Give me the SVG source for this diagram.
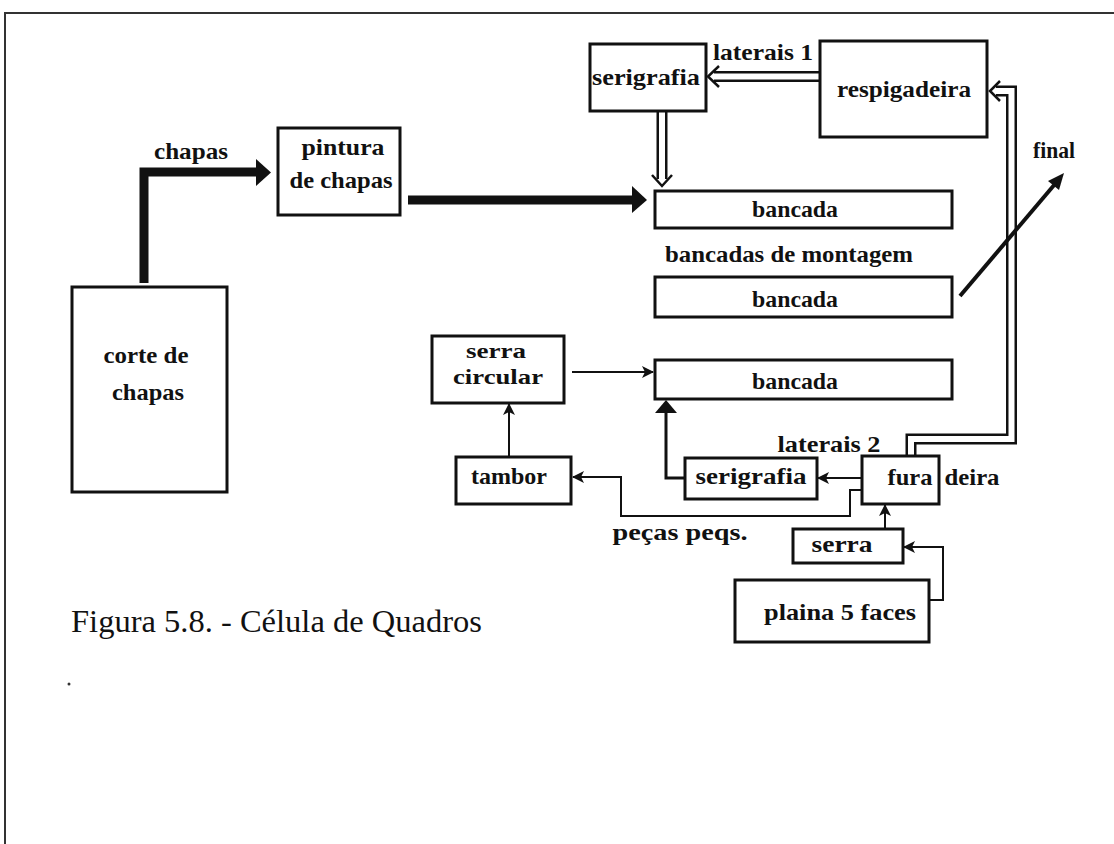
<svg xmlns="http://www.w3.org/2000/svg" width="1114" height="844" viewBox="0 0 1114 844">
<defs>
<style>
.box{fill:#fff;stroke:#111;stroke-width:3}
.t{font-family:"Liberation Serif","Times New Roman",serif;font-weight:bold;font-size:24px;fill:#111;text-anchor:middle}
.s{font-size:21px}
.cap{font-family:"Liberation Serif","Times New Roman",serif;font-size:31px;fill:#111}
.thin{fill:none;stroke:#111;stroke-width:2}
.thick{fill:none;stroke:#111;stroke-width:9;stroke-linejoin:miter}
.dblo{fill:none;stroke:#111;stroke-width:11;stroke-linejoin:miter}
.dbli{fill:none;stroke:#fff;stroke-width:6;stroke-linejoin:miter}
.chev{fill:none;stroke:#111;stroke-width:2.5}
.head{fill:#111}
</style>
<marker id="ah" viewBox="0 0 12 12" refX="11" refY="6" markerWidth="12" markerHeight="12" markerUnits="userSpaceOnUse" orient="auto">
<path d="M0,0 L12,6 L0,12 L3,6 z" fill="#111"/>
</marker>
</defs>
<rect width="1114" height="844" fill="#fff"/>
<g id="frame">
<line x1="4" y1="13" x2="1114" y2="13" stroke="#333" stroke-width="2"/>
<line x1="5" y1="13" x2="5" y2="844" stroke="#333" stroke-width="2"/>
</g>
<g id="connectors">
<path class="thick" d="M144,283 V172 H258"/>
<polygon class="head" points="256,159 271,172.5 256,186"/>
<path class="thick" d="M408,200 H634"/>
<polygon class="head" points="632,186 647,200 632,213"/>
<path class="dblo" d="M820,76.5 H714"/>
<path class="dbli" d="M822,76.5 H712"/>
<polyline class="chev" points="719,66 708,76.5 719,87"/>
<path class="dblo" d="M662,111 V179"/>
<path class="dbli" d="M662,109 V181"/>
<polyline class="chev" points="652,175 662,186 672,175"/>
<path class="dblo" d="M911,456 V439 H1011.5 V91 H996"/>
<path class="dbli" d="M911,458 V439 H1011.5 V91 H994"/>
<polyline class="chev" points="1000,81 990,91 1000,101"/>
<line x1="960" y1="296" x2="1055" y2="184" stroke="#111" stroke-width="4"/>
<polygon class="head" points="1064,173 1059,190 1048,181"/>
<path class="thin" d="M572,372 H653" marker-end="url(#ah)"/>
<path class="thin" d="M509,457 V404" marker-end="url(#ah)"/>
<path fill="none" stroke="#111" stroke-width="3" d="M685,478 H666 V408"/>
<polygon class="head" points="666,400 655,413 677,413"/>
<path class="thin" d="M862,478 H818" marker-end="url(#ah)"/>
<path class="thin" d="M862,490 H850 V516 H621 V477 H573" marker-end="url(#ah)"/>
<path class="thin" d="M885,529 V505" marker-end="url(#ah)"/>
<path class="thin" d="M929,600 H943 V547 H904" marker-end="url(#ah)"/>
</g>
<g id="labels">
<text class="t" x="191" y="159" textLength="74" lengthAdjust="spacingAndGlyphs">chapas</text>
<text class="t" x="763" y="60" textLength="100" lengthAdjust="spacingAndGlyphs">laterais 1</text>
<text class="t" x="789" y="262" textLength="248" lengthAdjust="spacingAndGlyphs">bancadas de montagem</text>
<text class="t" x="1054" y="158" textLength="42" lengthAdjust="spacingAndGlyphs">final</text>
<text class="t" x="829" y="452" textLength="103" lengthAdjust="spacingAndGlyphs">laterais 2</text>
<text class="t" x="972" y="485" textLength="55" lengthAdjust="spacingAndGlyphs">deira</text>
<text class="t" x="680" y="540" textLength="135" lengthAdjust="spacingAndGlyphs">peças peqs.</text>
<text class="cap" x="71" y="632" textLength="411" lengthAdjust="spacingAndGlyphs">Figura 5.8. - Célula de Quadros</text>
<circle cx="69" cy="684" r="1.5" fill="#333"/>
</g>
<g id="corte">
<rect class="box" x="72" y="287" width="155" height="205"/>
<text class="t" x="146" y="363" textLength="85" lengthAdjust="spacingAndGlyphs">corte de</text>
<text class="t" x="148" y="400" textLength="72" lengthAdjust="spacingAndGlyphs">chapas</text>
</g>
<g id="pintura">
<rect class="box" x="278" y="128" width="122" height="87"/>
<text class="t" x="343" y="155" textLength="83" lengthAdjust="spacingAndGlyphs">pintura</text>
<text class="t" x="341" y="188" textLength="103" lengthAdjust="spacingAndGlyphs">de chapas</text>
</g>
<g id="serigrafia1">
<rect class="box" x="590" y="44" width="116" height="67"/>
<text class="t" x="646" y="85" textLength="108" lengthAdjust="spacingAndGlyphs">serigrafia</text>
</g>
<g id="respigadeira">
<rect class="box" x="820" y="41" width="167" height="96"/>
<text class="t" x="904" y="97" textLength="134" lengthAdjust="spacingAndGlyphs">respigadeira</text>
</g>
<g id="bancada1">
<rect class="box" x="655" y="191" width="297" height="37"/>
<text class="t" x="795" y="217" textLength="86" lengthAdjust="spacingAndGlyphs">bancada</text>
</g>
<g id="bancada2">
<rect class="box" x="655" y="277" width="297" height="40"/>
<text class="t" x="795" y="307" textLength="86" lengthAdjust="spacingAndGlyphs">bancada</text>
</g>
<g id="bancada3">
<rect class="box" x="655" y="360" width="297" height="39"/>
<text class="t" x="795" y="389" textLength="86" lengthAdjust="spacingAndGlyphs">bancada</text>
</g>
<g id="serra-circular">
<rect class="box" x="432" y="336" width="132" height="67"/>
<text class="t s" x="496" y="358" textLength="60" lengthAdjust="spacingAndGlyphs">serra</text>
<text class="t s" x="498" y="384" textLength="90" lengthAdjust="spacingAndGlyphs">circular</text>
</g>
<g id="tambor">
<rect class="box" x="456" y="457" width="115" height="47"/>
<text class="t" x="509" y="484" textLength="76" lengthAdjust="spacingAndGlyphs">tambor</text>
</g>
<g id="serigrafia2">
<rect class="box" x="685" y="458" width="132" height="41"/>
<text class="t" x="751" y="484" textLength="111" lengthAdjust="spacingAndGlyphs">serigrafia</text>
</g>
<g id="furadeira">
<rect class="box" x="862" y="456" width="77" height="48"/>
<text class="t" x="910" y="485" textLength="45" lengthAdjust="spacingAndGlyphs">fura</text>
</g>
<g id="serra">
<rect class="box" x="793" y="529" width="110" height="34"/>
<text class="t" x="842" y="552" textLength="61" lengthAdjust="spacingAndGlyphs">serra</text>
</g>
<g id="plaina">
<rect class="box" x="735" y="580" width="194" height="62"/>
<text class="t" x="840" y="620" textLength="152" lengthAdjust="spacingAndGlyphs">plaina 5 faces</text>
</g>
</svg>
